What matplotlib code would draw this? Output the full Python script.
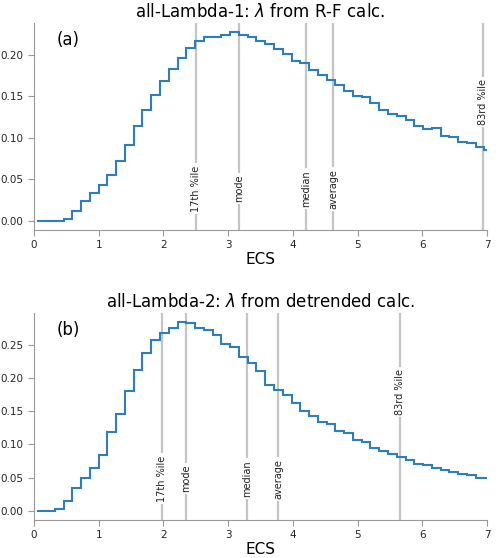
import numpy as np
import matplotlib
matplotlib.use('Agg')
import matplotlib.pyplot as plt

# bin edges in ECS (uniform steps)
edges = 0.05 + 0.1355 * np.arange(53)

# panel (a): all-Lambda-1, lambda from R-F calc.
pdf_a = [0.000, 0.000, 0.000, 0.0024, 0.0117, 0.0233, 0.0334, 0.0435, 0.0555, 0.0714,
         0.0913, 0.1135, 0.1330, 0.1510, 0.1686, 0.1830, 0.1956, 0.2080, 0.2170, 0.2212,
         0.2215, 0.2240, 0.2270, 0.2240, 0.2210, 0.2170, 0.2125, 0.2070, 0.2008, 0.1930,
         0.1900, 0.1820, 0.1760, 0.1700, 0.1640, 0.1560, 0.1505, 0.1490, 0.1417, 0.1340,
         0.1280, 0.1256, 0.1215, 0.1140, 0.1100, 0.1115, 0.1026, 0.1006, 0.0946, 0.0934,
         0.0893, 0.0850]

# panel (b): all-Lambda-2, lambda from detrended calc.
pdf_b = [0.000, 0.000, 0.0020, 0.0145, 0.0345, 0.0495, 0.0650, 0.0845, 0.1185, 0.1460,
         0.1805, 0.2125, 0.2385, 0.2575, 0.2675, 0.2760, 0.2840, 0.2825, 0.2750, 0.2730,
         0.2650, 0.2510, 0.2465, 0.2325, 0.2225, 0.2100, 0.1900, 0.1825, 0.1740, 0.1625,
         0.1510, 0.1435, 0.1340, 0.1310, 0.1200, 0.1175, 0.1060, 0.1040, 0.0950, 0.0900,
         0.0860, 0.0810, 0.0760, 0.0710, 0.0685, 0.0650, 0.0615, 0.0585, 0.0550, 0.0535,
         0.0500, 0.0490]

stat_names = ['17th %ile', 'mode', 'median', 'average', '83rd %ile']
stats_a = [2.50, 3.17, 4.21, 4.62, 6.93]
stats_b = [1.98, 2.35, 3.29, 3.77, 5.66]
label_y = [0.2, 0.2, 0.2, 0.2, 0.62]

titles = ['all-Lambda-1: $\\lambda$ from R-F calc.',
          'all-Lambda-2: $\\lambda$ from detrended calc.']
panel_tags = ['(a)', '(b)']

fig = plt.figure(figsize=(4.98, 5.58), dpi=100)
ax_a = fig.add_axes([0.0683, 0.5878, 0.9097, 0.371])
ax_b = fig.add_axes([0.0683, 0.068, 0.9097, 0.371])

for ax, pdf, stats, title, tag in zip([ax_a, ax_b], [pdf_a, pdf_b], [stats_a, stats_b],
                                      titles, panel_tags):
    ax.stairs(pdf, edges, baseline=None, color='#2e7ebc', lw=1.5, zorder=3)
    ax.set_xlim(0, 7)
    ax.margins(y=0.05)
    for x, name, ly in zip(stats, stat_names, label_y):
        ax.axvline(x, color='#c4c4c4', lw=1.6, zorder=1)
        ax.text(x, ly, name, transform=ax.get_xaxis_transform(), rotation=90,
                ha='center', va='center', fontsize=7, color='#222222', zorder=2,
                bbox=dict(facecolor='white', edgecolor='none', pad=1.5))
    ax.text(0.05, 0.92, tag, transform=ax.transAxes, va='center', fontsize=12)
    ax.set_title(title, fontsize=12, pad=4)
    ax.set_xlabel('ECS', fontsize=11, labelpad=1)
    for side in ['top', 'right']:
        ax.spines[side].set_visible(False)
    for side in ['left', 'bottom']:
        ax.spines[side].set_color('#999999')
    ax.tick_params(labelsize=7.5, colors='#999999', labelcolor='#262626', length=4)

plt.savefig('out.png', dpi=100)
